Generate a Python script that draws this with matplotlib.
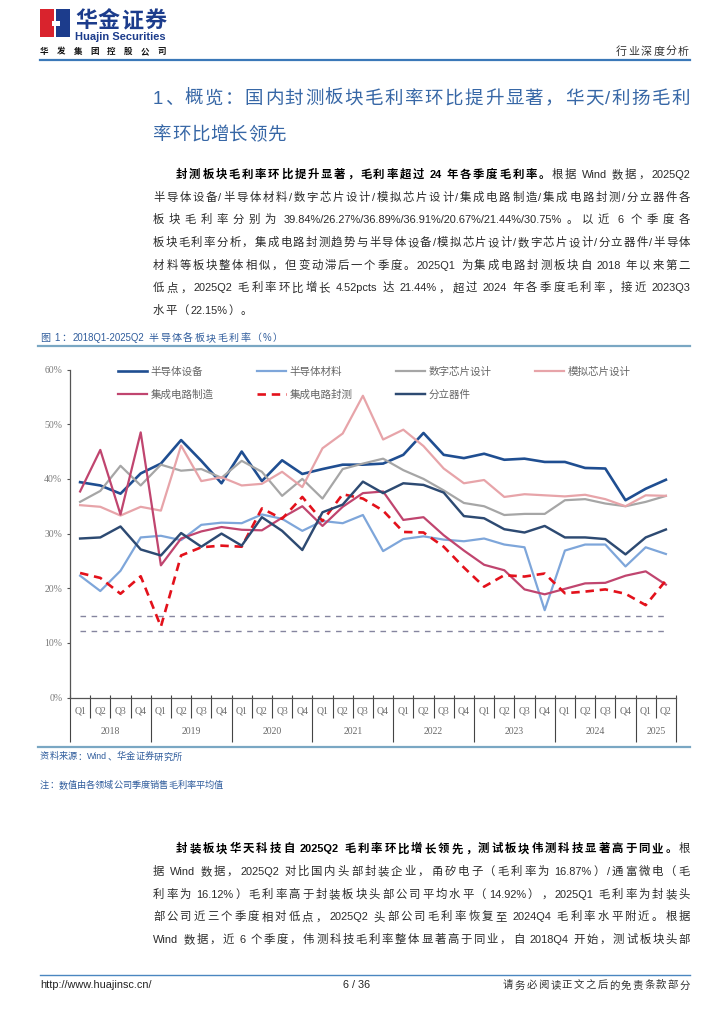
import numpy as np
import matplotlib
matplotlib.use('Agg')
import matplotlib.pyplot as plt
from matplotlib.patches import Rectangle
from matplotlib.lines import Line2D
from matplotlib.font_manager import FontProperties

W, H = 724, 1024
CJK = 'Noto Sans CJK SC'
SANS = ['Liberation Sans', CJK]
SERIF = ['Liberation Serif', CJK]
plt.rcParams['font.family'] = SANS

# ---------------- data ----------------
quarters = ['Q1', 'Q2', 'Q3', 'Q4'] * 7 + ['Q1', 'Q2']
years = ['2018', '2019', '2020', '2021', '2022', '2023', '2024', '2025']
series_names = ['半导体设备', '半导体材料', '数字芯片设计', '模拟芯片设计',
                '集成电路制造', '集成电路封测', '分立器件']
semi_equip = [39.4, 38.8, 37.3, 41.0, 42.8, 47.1, 43.3, 39.2, 45.0, 39.6,
              43.4, 40.9, 41.8, 42.6, 42.6, 42.8, 44.4, 48.4, 44.4, 43.8,
              44.6, 43.5, 43.7, 43.1, 43.1, 42.0, 41.9, 36.1, 38.2, 39.84]
semi_mat = [22.3, 19.5, 23.2, 29.3, 29.6, 28.8, 31.6, 32.0, 31.9, 33.5,
            32.7, 30.5, 32.3, 31.9, 33.4, 26.8, 29.0, 29.5, 28.9, 28.6,
            29.1, 28.0, 27.5, 16.0, 26.9, 28.0, 28.0, 24.0, 27.5, 26.27]
digital = [35.8, 37.8, 42.4, 38.8, 42.6, 41.5, 41.8, 40.2, 43.3, 41.3,
           36.9, 40.0, 36.4, 41.8, 42.8, 43.7, 41.6, 40.0, 37.9, 35.6,
           35.0, 33.4, 33.6, 33.6, 36.1, 36.3, 35.5, 35.0, 35.8, 36.89]
analog = [35.2, 34.9, 33.3, 34.9, 34.2, 46.1, 39.6, 40.3, 38.8, 39.1,
          41.3, 38.5, 45.6, 48.3, 55.2, 47.2, 49.0, 46.0, 41.9, 39.2,
          39.8, 36.7, 37.2, 37.0, 36.8, 37.1, 36.3, 35.0, 37.0, 36.91]
ic_mfg = [37.7, 45.3, 33.5, 48.5, 24.2, 29.1, 30.4, 31.2, 30.7, 30.6,
          32.9, 35.0, 31.4, 34.9, 37.4, 37.7, 32.5, 33.0, 29.7, 26.9,
          24.3, 23.3, 19.8, 18.9, 19.9, 20.9, 21.0, 22.3, 23.1, 20.67]
ic_pkg = [22.8, 21.9, 19.0, 22.2, 13.0, 26.0, 27.5, 27.8, 27.6, 34.6,
          32.7, 36.7, 32.3, 37.2, 36.4, 34.2, 30.3, 30.2, 27.6, 23.8,
          20.3, 22.4, 22.15, 22.7, 19.1, 19.4, 19.8, 19.0, 16.92, 21.44]
discrete = [29.1, 29.3, 31.3, 27.1, 26.0, 30.1, 27.6, 30.0, 27.8, 33.0,
            30.5, 27.0, 33.9, 35.3, 39.5, 37.4, 39.2, 38.9, 37.5, 33.2,
            32.8, 30.8, 30.2, 31.4, 29.3, 29.3, 29.0, 26.2, 29.3, 30.75]
ref_levels = [14.92, 12.2]
yticks = [0, 10, 20, 30, 40, 50, 60]

# ---------------- text content ----------------
heading = ['1、概览：国内封测板块毛利率环比提升显著，华天/利扬毛利', '率环比增长领先']
para1 = [
    [('封测板块毛利率环比提升显著，毛利率超过 24 年各季度毛利率。', True), ('根据 Wind 数据，2025Q2', False)],
    [('半导体设备/半导体材料/数字芯片设计/模拟芯片设计/集成电路制造/集成电路封测/分立器件各', False)],
    [('板块毛利率分别为 39.84%/26.27%/36.89%/36.91%/20.67%/21.44%/30.75%。以近 6 个季度各', False)],
    [('板块毛利率分析，集成电路封测趋势与半导体设备/模拟芯片设计/数字芯片设计/分立器件/半导体', False)],
    [('材料等板块整体相似，但变动滞后一个季度。2025Q1 为集成电路封测板块自 2018 年以来第二', False)],
    [('低点，2025Q2 毛利率环比增长 4.52pcts 达 21.44%，超过 2024 年各季度毛利率，接近 2023Q3', False)],
    [('水平（22.15%）。', False)],
]
para2 = [
    [('封装板块华天科技自 2025Q2 毛利率环比增长领先，测试板块伟测科技显著高于同业。', True), ('根', False)],
    [('据 Wind 数据，2025Q2 对比国内头部封装企业，甬矽电子（毛利率为 16.87%）/通富微电（毛', False)],
    [('利率为 16.12%）毛利率高于封装板块头部公司平均水平（14.92%），2025Q1 毛利率为封装头', False)],
    [('部公司近三个季度相对低点，2025Q2 头部公司毛利率恢复至 2024Q4 毛利率水平附近。根据', False)],
    [('Wind 数据，近 6 个季度，伟测科技毛利率整体显著高于同业，自 2018Q4 开始，测试板块头部', False)],
]
caption = '图 1：2018Q1-2025Q2 半导体各板块毛利率（%）'
source = '资料来源：Wind、华金证券研究所'
note = '注：数值由各领域公司季度销售毛利率平均值'

fig = plt.figure(figsize=(W / 100, H / 100), dpi=100)
renderer = fig.canvas.get_renderer()


def is_cjk(ch):
    return ord(ch) > 0x2E7F


def tokenize(segments):
    toks = []
    for text, bold in segments:
        buf = ''
        for ch in text:
            if ch == ' ':
                if buf:
                    toks.append((buf, bold, 'lat')); buf = ''
                toks.append((' ', bold, 'sp'))
            elif is_cjk(ch):
                if buf:
                    toks.append((buf, bold, 'lat')); buf = ''
                toks.append((ch, bold, 'cjk'))
            else:
                buf += ch
        if buf:
            toks.append((buf, bold, 'lat'))
    return toks


def draw_line(segments, x0, yc, em, x1=None, spacing=0.0, color='#222222',
              bold_color='#000000', family=None, lat_scale=0.96):
    fam = family if family is not None else SANS
    toks = tokenize(segments)
    widths = []
    sizes = []
    for t, b, k in toks:
        if k == 'cjk':
            widths.append(em)
            sizes.append(em * 0.72)
        elif k == 'sp':
            widths.append(0.3 * em)
            sizes.append(em * 0.72)
        else:
            fs = em * 0.72 * lat_scale
            tt = fig.text(0, 0, t, fontsize=fs, family=fam,
                          fontweight='bold' if b else 'normal')
            widths.append(tt.get_window_extent(renderer).width)
            tt.remove()
            sizes.append(fs)
    vis = [i for i, tk in enumerate(toks) if tk[2] != 'sp']
    ngaps = max(len(vis) - 1, 1)
    if x1 is not None and len(vis) > 1:
        gap = (x1 - x0 - sum(widths)) / ngaps
    else:
        gap = spacing
    base = yc + 0.38 * em
    x = x0
    prev_vis = False
    for (t, b, k), w, fs in zip(toks, widths, sizes):
        if k == 'sp':
            x += w
            continue
        if prev_vis:
            x += gap
        ha, xx = 'left', x
        if t in '（“《':
            ha, xx = 'right', x + 0.92 * em
        fig.text(xx / W, 1 - base / H, t, fontsize=fs, family=fam,
                 fontweight='bold' if b else 'normal',
                 color=bold_color if b else color, ha=ha, va='baseline')
        x += w
        prev_vis = True


def hline_fig(x0, x1, y, color, lw):
    fig.add_artist(Line2D([x0 / W, x1 / W], [1 - y / H, 1 - y / H],
                          transform=fig.transFigure, color=color, lw=lw))


# ---------------- header ----------------
navy = '#1C3C8C'
fig.add_artist(Rectangle((40 / W, 1 - 37 / H), 14 / W, 28 / H,
                         transform=fig.transFigure, color='#D9232D', lw=0))
fig.add_artist(Rectangle((56 / W, 1 - 37 / H), 14 / W, 28 / H,
                         transform=fig.transFigure, color=navy, lw=0))
fig.add_artist(Rectangle((52 / W, 1 - 26 / H), 8 / W, 5 / H,
                         transform=fig.transFigure, color='white', lw=0))
draw_line([('华金证券', True)], 75, 19, 22, x1=166, color=navy, bold_color=navy)
t = fig.text(75 / W, 1 - 37 / H, 'Huajin Securities', fontsize=8, fontweight='bold',
             color=navy, family=SANS, va='center', ha='left')
wv = t.get_window_extent(renderer).width
t.set_fontsize(8 * 91 / wv)
draw_line([('华发集团控股公司', True)], 40, 51, 8.5, x1=166, color='#111', bold_color='#111')
draw_line([('行业深度分析', False)], 616, 51, 11, x1=689, color='#333333')
hline_fig(40, 690, 60, '#3A78B8', 1.6)

# ---------------- heading ----------------
hblue = '#3767A6'
draw_line([(heading[0], False)], 153, 97, 18.5, x1=690, color=hblue, lat_scale=1.0)
draw_line([(heading[1], False)], 153, 133, 18.5, spacing=0.6, color=hblue)

# ---------------- paragraphs ----------------
body_em = 11.4
for i, segs in enumerate(para1):
    y = 173.5 + i * 22.7
    x0 = 176 if i == 0 else 153
    last = i == len(para1) - 1
    draw_line(segs, x0, y, body_em, x1=None if last else 690, spacing=1.0, color='#2a2a2a')
for i, segs in enumerate(para2):
    y = 848 + i * 22.7
    x0 = 176 if i == 0 else 153
    draw_line(segs, x0, y, body_em, x1=690, color='#2a2a2a')

# ---------------- caption ----------------
cblue = '#2F5C9C'
draw_line([(caption, False)], 40, 337, 10, x1=283, color=cblue)
hline_fig(38, 690, 346, '#7AA7C3', 1.6)
hline_fig(38, 690, 746.5, '#7AA7C3', 1.6)
draw_line([(source, False)], 40, 756, 9.2, x1=182, color=cblue)
draw_line([(note, False)], 40, 784.5, 9.2, x1=223, color=cblue)

# ---------------- footer ----------------
hline_fig(40, 690, 975, '#4A86C0', 1.0)
fig.text(40 / W, 1 - 984.5 / H, 'http://www.huajinsc.cn/', fontsize=7.8, color='#222',
         family=SANS, va='center', ha='left')
fig.text(357 / W, 1 - 984.5 / H, '6 / 36', fontsize=7.8, color='#222',
         family=SANS, va='center', ha='center')
draw_line([('请务必阅读正文之后的免责条款部分', False)], 503, 984.5, 10.4, x1=690, color='#333333')

# ---------------- chart ----------------
ax = fig.add_axes([70 / W, 1 - 697.7 / H, 606 / W, 328.2 / H])
x = np.arange(len(quarters))
ax.set_xlim(-0.5, len(quarters) - 0.5)
ax.set_ylim(0, 60)

for lvl in ref_levels:
    ax.hlines(lvl, x[0], x[-1], colors='#85859F', linestyles=(0, (4, 4)), lw=1.0, zorder=1)

l_equip, = ax.plot(x, semi_equip, color='#1F4E91', lw=1.9, label=series_names[0], zorder=3)
l_mat, = ax.plot(x, semi_mat, color='#7EA6DA', lw=1.6, label=series_names[1], zorder=3)
l_dig, = ax.plot(x, digital, color='#A6A6A6', lw=1.6, label=series_names[2], zorder=3)
l_ana, = ax.plot(x, analog, color='#E7A4A9', lw=1.6, label=series_names[3], zorder=3)
l_mfg, = ax.plot(x, ic_mfg, color='#C0456F', lw=1.6, label=series_names[4], zorder=3)
l_pkg, = ax.plot(x, ic_pkg, color='#E3111B', lw=1.9, dashes=(3.2, 2.2), label=series_names[5], zorder=3)
l_dis, = ax.plot(x, discrete, color='#2D4A72', lw=1.75, label=series_names[6], zorder=3)

for s in ['top', 'right']:
    ax.spines[s].set_visible(False)
for s in ['left', 'bottom']:
    ax.spines[s].set_color('#555555')
    ax.spines[s].set_linewidth(0.9)

ax.set_yticks(yticks)
ax.set_yticklabels([f'{v}%' for v in yticks], fontfamily=SERIF, fontsize=7, color='#7a7a7a')
ax.tick_params(axis='y', direction='out', length=2.5, width=0.8, color='#555555', pad=3)
ax.set_xticks(x)
ax.set_xticklabels(quarters, fontfamily=SERIF, fontsize=7, color='#6a6a6a')
ax.tick_params(axis='x', length=0, pad=6.5)

trans = ax.get_xaxis_transform()
ax_h = 328.2
qsep = [i - 0.5 for i in range(1, len(quarters)) if i % 4 != 0]
ysep = [i - 0.5 for i in range(0, len(quarters) + 1) if i % 4 == 0 or i == len(quarters)]
ax.vlines(qsep, (697.7 - 718) / ax_h, 3 / ax_h, transform=trans, colors='#444444',
          lw=0.8, clip_on=False)
ax.vlines(ysep, (697.7 - 742) / ax_h, 3 / ax_h, transform=trans, colors='#444444',
          lw=0.8, clip_on=False)
for k, yr in enumerate(years):
    start = 4 * k
    end = min(4 * k + 3, len(quarters) - 1)
    ax.text((start + end) / 2, (697.7 - 732) / ax_h, yr, transform=trans, ha='center',
            va='center', fontfamily=SERIF, fontsize=7, color='#6a6a6a')

handles = [l_equip, l_mfg, l_mat, l_pkg, l_dig, l_dis, l_ana]
leg = ax.legend(handles=handles, labels=[h.get_label() for h in handles], ncol=4,
                loc='upper left', bbox_to_anchor=(0.0792, 1.008), frameon=False,
                prop=FontProperties(family=CJK, size=7.6), handlelength=2.75,
                handletextpad=0.3, columnspacing=4.15, labelspacing=1.2,
                borderpad=0, borderaxespad=0)
for txt in leg.get_texts():
    txt.set_color('#666666')

fig.savefig('out.png', dpi=100)
